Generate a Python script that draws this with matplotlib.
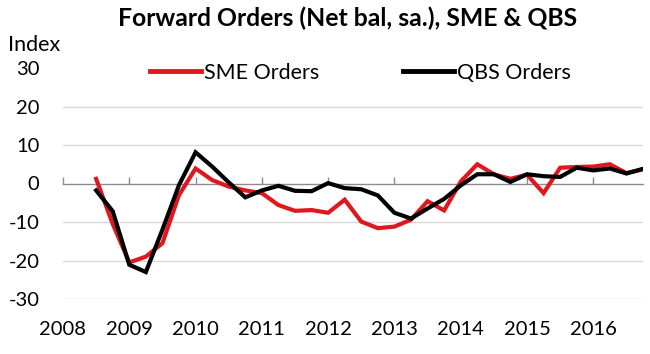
import matplotlib
matplotlib.use("Agg")
import matplotlib.pyplot as plt
import pandas as pd

# ---- data ----
quarters = pd.period_range("2008Q3", "2016Q4", freq="Q")
sme_orders = [1.2, -10.5, -20.5, -19.0, -15.5, -3.0, 3.9, 0.9, -0.8, -1.8,
              -2.5, -5.6, -7.1, -6.9, -7.6, -4.2, -9.9, -11.6, -11.2, -9.4,
              -4.6, -7.0, 0.5, 5.0, 2.4, 1.2, 2.3, -2.5, 4.1, 4.3,
              4.4, 5.0, 2.7, 3.7]
qbs_orders = [-1.8, -7.2, -21.1, -23.0, -12.0, -0.4, 8.1, 4.4, 0.3, -3.6,
              -1.8, -0.6, -1.9, -2.0, 0.1, -1.2, -1.5, -3.1, -7.6, -9.1,
              -6.5, -4.0, -0.5, 2.4, 2.4, 0.4, 2.4, 1.9, 1.7, 4.1,
              3.4, 3.9, 2.6, 3.8]
year_ticks = [2008, 2009, 2010, 2011, 2012, 2013, 2014, 2015, 2016]
y_ticks = [-30, -20, -10, 0, 10, 20, 30]
grid_levels = [-30, -20, -10, 10, 20]
title = "Forward Orders (Net bal, sa.), SME & QBS"

x = [q.year + (q.quarter - 1) / 4 for q in quarters]

plt.rcParams["font.family"] = ["Lato", "DejaVu Sans"]

fig = plt.figure(figsize=(6.5, 3.54), dpi=100)
ax = fig.add_axes([63 / 650, 1 - 299 / 354, 580 / 650, 231 / 354])

# gridlines
for v in grid_levels:
    ax.axhline(v, color="#d9d9d9", lw=1.0, zorder=0)

l1, = ax.plot(x, sme_orders, color="#e0171f", lw=3.0, solid_joinstyle="miter", zorder=3,
              label="SME Orders")
l2, = ax.plot(x, qbs_orders, color="#000000", lw=3.0, solid_joinstyle="miter", zorder=4,
              label="QBS Orders")

ax.set_xlim(2008, 2016.75)
ax.set_ylim(-30, 30)

for s in ["top", "right", "left"]:
    ax.spines[s].set_visible(False)
ax.spines["bottom"].set_position(("data", 0))
ax.spines["bottom"].set_color("#8c8c8c")
ax.spines["bottom"].set_linewidth(1.0)
ax.set_xticks(year_ticks)
ax.tick_params(axis="x", direction="in", length=5, width=1, color="#8c8c8c",
               labelbottom=False)

ax.set_yticks(y_ticks)
ax.set_yticklabels([str(v) for v in y_ticks])
ax.tick_params(axis="y", length=0, pad=17, labelsize=14.5)

sec = ax.secondary_xaxis(0.0)
sec.set_xticks(year_ticks)
sec.set_xticklabels([str(y) for y in year_ticks])
sec.tick_params(length=0, pad=16, labelsize=14.5)
sec.spines["bottom"].set_visible(False)

fig.text(0.534, 0.949, title, ha="center", va="center", fontsize=17.8,
         fontweight="bold")
fig.text(0.012, 0.873, "Index", ha="left", va="center", fontsize=15.5)

leg = fig.legend(handles=[l1, l2], loc="center", bbox_to_anchor=(0.554, 0.795),
                 ncol=2, frameon=True, fontsize=15.5, handlelength=2.4,
                 columnspacing=3.9, handletextpad=0.1, borderpad=0.2)
leg.get_frame().set_facecolor("white")
leg.get_frame().set_edgecolor("none")
for h in leg.get_lines():
    h.set_linewidth(3.5)

fig.savefig("out.png", dpi=100)
